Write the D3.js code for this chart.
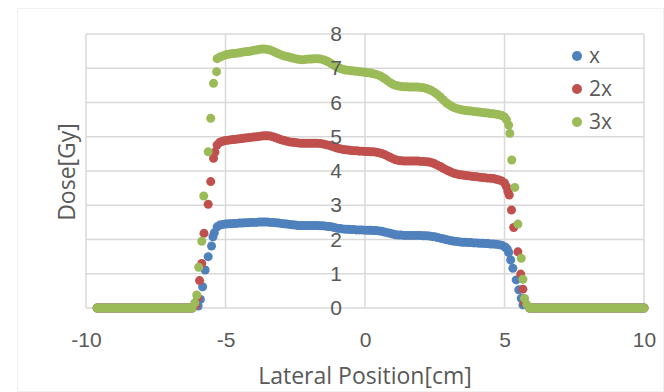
<!DOCTYPE html>
<html>
<head>
<meta charset="utf-8">
<script src="https://cdn.jsdelivr.net/npm/d3@7"></script>
<style>
  html, body { margin: 0; padding: 0; background: #fff; }
  svg { display: block; font-family: "Open Sans", "Noto Sans", sans-serif; }
  .grid line { stroke: #d9d9d9; stroke-width: 1.5; }
  .axis text { fill: #595959; font-size: 21px; }
  .axis-title { fill: #595959; font-size: 23px; }
  .legend text { fill: #595959; font-size: 21px; }
</style>
</head>
<body>
<div id="chart"></div>
<script>
// Lateral dose profiles for three dose levels (x, 2x, 3x).
const X_TICKS = [-10, -5, 0, 5, 10];
const Y_TICKS = [0, 1, 2, 3, 4, 5, 6, 7, 8];
const SERIES = ["x", "2x", "3x"];
const COLORS = ["#4f81bd", "#c0504d", "#9bbb59"];

// zero-dose tails outside the field (shared by all series)
const tailPos = [-9.6, -9.5, -9.4, -9.3, -9.2, -9.1, -9.0, -8.9, -8.8, -8.7, -8.6, -8.5, -8.4, -8.3, -8.2, -8.1, -8.0,
  -7.9, -7.8, -7.7, -7.6, -7.5, -7.4, -7.3, -7.2, -7.1, -7.0, -6.9, -6.8, -6.7, -6.6, -6.5, -6.4, -6.3, -6.2,
  5.9, 6.0, 6.1, 6.2, 6.3, 6.4, 6.5, 6.6, 6.7, 6.8, 6.9, 7.0, 7.1, 7.2, 7.3, 7.4, 7.5, 7.6, 7.7, 7.8, 7.9, 8.0,
  8.1, 8.2, 8.3, 8.4, 8.5, 8.6, 8.7, 8.8, 8.9, 9.0, 9.1, 9.2, 9.3, 9.4, 9.5, 9.6, 9.7, 9.8, 9.9, 10.0];

// in-field positions (cm)
const fieldPos = [-5.3, -5.2, -5.1, -5.0, -4.9, -4.8, -4.7, -4.6, -4.5, -4.4, -4.3, -4.2, -4.1, -4.0, -3.9, -3.8, -3.7, -3.6, -3.5, -3.4,
  -3.3, -3.2, -3.1, -3.0, -2.9, -2.8, -2.7, -2.6, -2.5, -2.4, -2.3, -2.2, -2.1, -2.0, -1.9, -1.8, -1.7, -1.6, -1.5, -1.4,
  -1.3, -1.2, -1.1, -1.0, -0.9, -0.8, -0.7, -0.6, -0.5, -0.4, -0.3, -0.2, -0.1, 0.0, 0.1, 0.2, 0.3, 0.4, 0.5, 0.6,
  0.7, 0.8, 0.9, 1.0, 1.1, 1.2, 1.3, 1.4, 1.5, 1.6, 1.7, 1.8, 1.9, 2.0, 2.1, 2.2, 2.3, 2.4, 2.5, 2.6,
  2.7, 2.8, 2.9, 3.0, 3.1, 3.2, 3.3, 3.4, 3.5, 3.6, 3.7, 3.8, 3.9, 4.0, 4.1, 4.2, 4.3, 4.4, 4.5, 4.6,
  4.7, 4.8, 4.9, 5.0];

const fieldX = [2.37, 2.42, 2.44, 2.45, 2.46, 2.46, 2.47, 2.47, 2.48, 2.48, 2.49, 2.49, 2.50, 2.50, 2.50, 2.51, 2.51, 2.51, 2.51, 2.50,
  2.50, 2.49, 2.48, 2.47, 2.46, 2.45, 2.44, 2.43, 2.42, 2.41, 2.41, 2.41, 2.41, 2.41, 2.41, 2.41, 2.41, 2.40, 2.40, 2.39,
  2.38, 2.37, 2.35, 2.33, 2.32, 2.31, 2.30, 2.30, 2.29, 2.29, 2.28, 2.28, 2.28, 2.27, 2.27, 2.27, 2.26, 2.26, 2.25, 2.24,
  2.22, 2.20, 2.18, 2.16, 2.14, 2.13, 2.13, 2.12, 2.12, 2.12, 2.12, 2.12, 2.12, 2.12, 2.11, 2.11, 2.10, 2.09, 2.08, 2.06,
  2.04, 2.02, 2.00, 1.98, 1.96, 1.95, 1.94, 1.93, 1.92, 1.92, 1.91, 1.91, 1.90, 1.90, 1.89, 1.89, 1.88, 1.88, 1.87, 1.87,
  1.86, 1.85, 1.83, 1.79];

const field2x = [4.76, 4.84, 4.87, 4.89, 4.90, 4.91, 4.92, 4.93, 4.94, 4.95, 4.96, 4.97, 4.98, 4.99, 5.00, 5.01, 5.02, 5.03, 5.03, 5.02,
  5.00, 4.97, 4.94, 4.91, 4.89, 4.87, 4.85, 4.84, 4.83, 4.82, 4.81, 4.81, 4.81, 4.81, 4.81, 4.81, 4.81, 4.80, 4.79, 4.77,
  4.75, 4.73, 4.70, 4.67, 4.65, 4.63, 4.62, 4.61, 4.60, 4.59, 4.59, 4.58, 4.58, 4.57, 4.57, 4.56, 4.56, 4.55, 4.53, 4.51,
  4.48, 4.44, 4.40, 4.36, 4.33, 4.31, 4.30, 4.29, 4.29, 4.29, 4.29, 4.29, 4.29, 4.28, 4.28, 4.27, 4.26, 4.24, 4.21, 4.17,
  4.13, 4.08, 4.04, 4.00, 3.96, 3.93, 3.91, 3.89, 3.88, 3.87, 3.86, 3.85, 3.84, 3.83, 3.82, 3.81, 3.80, 3.79, 3.79, 3.78,
  3.76, 3.74, 3.71, 3.65];

const field3x = [7.28, 7.33, 7.36, 7.39, 7.41, 7.42, 7.43, 7.44, 7.45, 7.47, 7.48, 7.49, 7.50, 7.52, 7.53, 7.55, 7.56, 7.56, 7.55, 7.53,
  7.50, 7.46, 7.42, 7.39, 7.36, 7.34, 7.32, 7.30, 7.28, 7.26, 7.25, 7.25, 7.26, 7.27, 7.27, 7.28, 7.28, 7.27, 7.25, 7.22,
  7.18, 7.13, 7.08, 7.03, 7.00, 6.97, 6.95, 6.94, 6.93, 6.92, 6.91, 6.90, 6.89, 6.88, 6.87, 6.86, 6.84, 6.82, 6.79, 6.75,
  6.70, 6.64, 6.58, 6.53, 6.50, 6.48, 6.47, 6.46, 6.46, 6.45, 6.45, 6.45, 6.45, 6.44, 6.43, 6.41, 6.38, 6.34, 6.29, 6.23,
  6.16, 6.08, 6.00, 5.94, 5.89, 5.85, 5.82, 5.80, 5.78, 5.77, 5.76, 5.75, 5.74, 5.73, 5.72, 5.71, 5.70, 5.69, 5.68, 5.67,
  5.66, 5.64, 5.62, 5.58];

// penumbra points (position, dose)
const edgeX = [[-5.98, 0.06], [-5.9, 0.25], [-5.82, 0.62], [-5.73, 1.11], [-5.62, 1.5], [-5.5, 1.81], [-5.45, 2.08], [-5.4, 2.2],
  [5.05, 1.76], [5.1, 1.72], [5.15, 1.62], [5.22, 1.4], [5.3, 1.16], [5.42, 0.82], [5.51, 0.53], [5.6, 0.28], [5.66, 0.09]];
const edge2x = [[-6.08, 0.08], [-6.0, 0.3], [-5.93, 0.8], [-5.85, 1.3], [-5.77, 2.18], [-5.62, 3.03], [-5.53, 3.69], [-5.43, 4.37], [-5.38, 4.55],
  [5.07, 3.54], [5.12, 3.4], [5.17, 3.3], [5.25, 2.86], [5.33, 2.35], [5.48, 1.64], [5.58, 0.99], [5.66, 0.55], [5.72, 0.15]];
const edge3x = [[-6.1, 0.15], [-6.03, 0.38], [-5.96, 1.19], [-5.85, 1.95], [-5.78, 3.27], [-5.62, 4.56], [-5.53, 5.54], [-5.43, 6.56], [-5.32, 6.9],
  [5.07, 5.5], [5.15, 5.34], [5.19, 5.1], [5.26, 4.32], [5.37, 3.52], [5.48, 2.45], [5.6, 1.45], [5.66, 0.84], [5.72, 0.28], [5.8, 0.1]];

const fields = [fieldX, field2x, field3x];
const edges = [edgeX, edge2x, edge3x];

const width = 664, height = 392;
const m = { top: 34, right: 20, bottom: 84, left: 86 };

const x = d3.scaleLinear([-10, 10], [m.left, width - m.right]);
const y = d3.scaleLinear([0, 8], [height - m.bottom, m.top]);

const svg = d3.select("#chart").append("svg")
  .attr("width", width).attr("height", height);

svg.append("rect").attr("x", 17.5).attr("y", 8.5).attr("width", width - 18).attr("height", height - 9)
  .attr("fill", "#fff").attr("stroke", "#f0f0f0");

const grid = svg.append("g").attr("class", "grid");
grid.selectAll("line.h").data(Y_TICKS).join("line").attr("class", "h")
  .attr("x1", x(-10)).attr("x2", x(10)).attr("y1", (d) => y(d)).attr("y2", (d) => y(d));
grid.selectAll("line.v").data(X_TICKS).join("line").attr("class", "v")
  .attr("x1", (d) => x(d)).attr("x2", (d) => x(d)).attr("y1", y(0)).attr("y2", y(8));

// points, series by series (3x ends up on top)
SERIES.forEach((name, s) => {
  const pts = tailPos.map((p) => [p, 0])
    .concat(fieldPos.map((p, i) => [p, fields[s][i]]))
    .concat(edges[s]);
  svg.append("g").selectAll("circle").data(pts).join("circle")
    .attr("cx", (d) => x(d[0])).attr("cy", (d) => y(d[1])).attr("r", 4.5)
    .attr("fill", COLORS[s]);
});

const xAxis = svg.append("g").attr("class", "axis")
  .attr("transform", `translate(0,${y(0)})`)
  .call(d3.axisBottom(x).tickValues(X_TICKS).tickSize(0).tickPadding(24).tickFormat((d) => String(d)));
xAxis.select(".domain").remove();

const yAxis = svg.append("g").attr("class", "axis")
  .attr("transform", `translate(${x(0)},0)`)
  .call(d3.axisLeft(y).tickValues(Y_TICKS).tickSize(0).tickPadding(23).tickFormat((d) => String(d)));
yAxis.select(".domain").remove();
svg.selectAll(".axis text").attr("font-family", null).attr("font-size", null);

svg.append("text").attr("class", "axis-title").attr("text-anchor", "middle")
  .attr("x", x(0)).attr("y", 384).text("Lateral Position[cm]");
svg.append("text").attr("class", "axis-title").attr("text-anchor", "middle")
  .attr("transform", `translate(75,172) rotate(-90)`).text("Dose[Gy]");

const legend = svg.append("g").attr("class", "legend");
SERIES.forEach((name, s) => {
  const ly = 56 + s * 33;
  legend.append("circle").attr("cx", 577).attr("cy", ly).attr("r", 5).attr("fill", COLORS[s]);
  legend.append("text").attr("x", 589).attr("y", ly).attr("dy", "0.35em").text(name);
});
</script>
</body>
</html>
